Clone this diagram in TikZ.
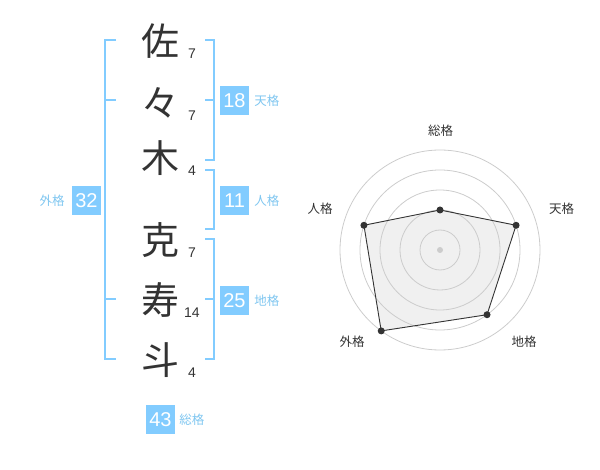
\documentclass[tikz,border=0pt]{standalone}
\usepackage{fontspec}
\setmainfont{Noto Sans CJK JP}
\newfontfamily\numfont{Liberation Sans}
\usetikzlibrary{positioning,calc}
\definecolor{KakuBlue}{HTML}{82CCFF}
\definecolor{KakuText}{HTML}{7FC6F0}
\definecolor{InkGray}{HTML}{333333}

\begin{document}
\begin{tikzpicture}[x=1pt,y=-1pt,
    kanji/.style={text=InkGray,font=\fontsize{38}{38}\selectfont,inner sep=0pt},
    strokes/.style={text=InkGray,font=\numfont\fontsize{14}{14}\selectfont,inner sep=0pt},
    kakubox/.style={fill=KakuBlue,text=white,minimum size=29pt,inner sep=0pt,font=\numfont\fontsize{20}{20}\selectfont},
    kakulabel/.style={text=KakuText,font=\fontsize{12.5}{12.5}\selectfont,inner sep=0pt},
    bracket/.style={draw=KakuBlue,line width=2pt},
    ring/.style={draw=black!20,line width=0.8pt},
    axislabel/.style={text=InkGray,font=\fontsize{12.5}{12.5}\selectfont,inner sep=0pt}]
  \useasboundingbox (0,0) rectangle (600,470);
  % name and stroke counts
  \foreach \ch/\y/\n [count=\i] in {佐/41/7, 々/103/7, 木/158/4, 克/240/7, 寿/300/14, 斗/360/4} {
    \node[kanji] (ch\i) at (160,\y) {\ch};
    \node[strokes] (st\i) at (192,\y+13) {\n};
  }
  % brackets
  \draw[bracket] (116,40) -- (105,40) -- (105,359) -- (116,359);
  \draw[bracket] (105,100) -- (116,100);
  \draw[bracket] (105,299) -- (116,299);
  \draw[bracket] (205,40) -- (214,40) -- (214,160) -- (205,160);
  \draw[bracket] (205,100) -- (214,100);
  \draw[bracket] (205,170) -- (214,170) -- (214,229) -- (205,229);
  \draw[bracket] (205,239) -- (214,239) -- (214,359) -- (205,359);
  \draw[bracket] (205,299) -- (214,299);
  % kaku boxes
  \node[kakubox] (ten) at (234.5,100.5) {18};
  \node[kakulabel,right=5pt of ten] (tenl) {天格};
  \node[kakubox] (jin) at (234.5,200.5) {11};
  \node[kakulabel,right=5pt of jin] (jinl) {人格};
  \node[kakubox] (chi) at (234.5,300.5) {25};
  \node[kakulabel,right=5pt of chi] (chil) {地格};
  \node[kakubox] (gai) at (86.5,200.5) {32};
  \node[kakulabel,left=7pt of gai] (gail) {外格};
  \node[kakubox] (sou) at (160.5,419.5) {43};
  \node[kakulabel,right=4pt of sou] (soul) {総格};
  % radar chart
  \coordinate (c) at (440,250);
  \coordinate (p1) at ($(c)+(-90:40)$);
  \coordinate (p2) at ($(c)+(-18:80)$);
  \coordinate (p3) at ($(c)+(54:80)$);
  \coordinate (p4) at ($(c)+(126:100)$);
  \coordinate (p5) at ($(c)+(198:80)$);
  \fill[black!6] (p1) -- (p2) -- (p3) -- (p4) -- (p5) -- cycle;
  \foreach \r in {20,40,...,100}
    \draw[ring] (c) circle[radius=\r];
  \fill[black!20] (c) circle[radius=3];
  \draw[InkGray,line width=0.9pt] (p1) -- (p2) -- (p3) -- (p4) -- (p5) -- cycle;
  \foreach \i in {1,...,5}
    \fill[InkGray] (p\i) circle[radius=3.5];
  \node[axislabel] (rsou) at (440.5,131) {総格};
  \node[axislabel] (rten) at (561.5,208.5) {天格};
  \node[axislabel] (rchi) at (524,342) {地格};
  \node[axislabel] (rgai) at (352,342) {外格};
  \node[axislabel] (rjin) at (320,208.5) {人格};
\end{tikzpicture}
\end{document}
